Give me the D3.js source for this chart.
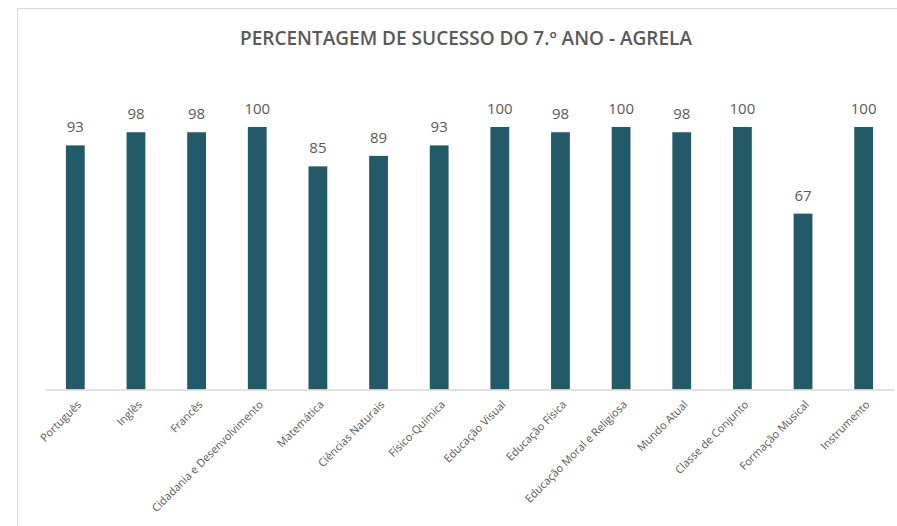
<!DOCTYPE html>
<html>
<head>
<meta charset="utf-8">
<script src="https://d3js.org/d3.v7.min.js"></script>
<style>
  body { margin: 0; background: #fff; }
  svg { display: block; }
</style>
</head>
<body>
<script>

// chart values
var subjects = ["Português", "Inglês", "Francês", "Cidadania e Desenvolvimento", "Matemática",
  "Ciências Naturais", "Físico-Química", "Educação Visual", "Educação Física",
  "Educação Moral e Religiosa", "Mundo Atual", "Classe de Conjunto", "Formação Musical", "Instrumento"];
var success = [93, 98, 98, 100, 85, 89, 93, 100, 98, 100, 98, 100, 67, 100];
var chartTitle = "PERCENTAGEM DE SUCESSO DO 7.º ANO - AGRELA";

var width = 897, height = 526;
var left = 45, right = 894, base = 389.5, top100 = 127;

var svg = d3.select("body").append("svg").attr("width", width).attr("height", height);

// chart area border (only left and top show in the frame)
svg.append("rect").attr("x", 17.5).attr("y", 8.5).attr("width", 900).attr("height", 600)
  .attr("fill", "#fff").attr("stroke", "#d9d9d9").attr("stroke-width", 1);

svg.append("text").attr("x", 466).attr("y", 45).attr("text-anchor", "middle")
  .attr("font-family", "Open Sans, sans-serif").attr("font-size", 19).attr("font-weight", 600)
  .attr("fill", "#595959").text(chartTitle);

var x = d3.scaleBand().domain(subjects).range([left, right]).paddingInner(0.69).paddingOuter(0.345);
var y = d3.scaleLinear().domain([0, 100]).range([base, top100]);

svg.selectAll("rect.bar").data(subjects).enter().append("rect")
  .attr("class", "bar")
  .attr("x", function(d) { return x(d); })
  .attr("width", x.bandwidth())
  .attr("y", function(d, i) { return y(success[i]); })
  .attr("height", function(d, i) { return base - y(success[i]); })
  .attr("fill", "#235a69");

// value labels
svg.selectAll("text.val").data(subjects).enter().append("text")
  .attr("class", "val")
  .attr("x", function(d) { return x(d) + x.bandwidth() / 2; })
  .attr("y", function(d, i) { return y(success[i]) - 13; })
  .attr("text-anchor", "middle")
  .attr("font-family", "Open Sans, sans-serif").attr("font-size", 15)
  .attr("fill", "#595959")
  .text(function(d, i) { return success[i]; });

// category axis
var axis = svg.append("g").attr("transform", "translate(0," + base + ")")
  .call(d3.axisBottom(x).tickSize(0).tickPadding(0));
axis.select(".domain").attr("stroke", "#d9d9d9").attr("stroke-width", 1.5);
axis.selectAll("text")
  .attr("font-family", "Open Sans, sans-serif").attr("font-size", 11)
  .attr("fill", "#595959")
  .attr("text-anchor", "end")
  .attr("dy", "0.35em")
  .attr("transform", "translate(4,13) rotate(-45)");

</script>
</body>
</html>
